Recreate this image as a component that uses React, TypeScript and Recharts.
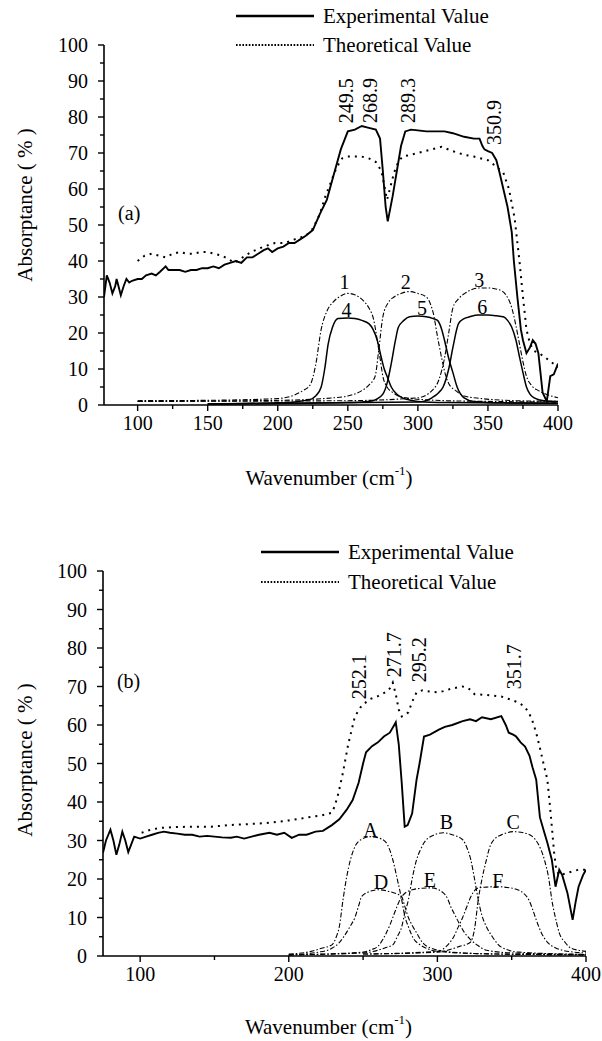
import React from 'react';
import { LineChart, Line, XAxis, YAxis, ReferenceDot, Legend } from 'recharts';

type Pt = [number, number];
const FONT = "'Liberation Serif', 'Times New Roman', 'DejaVu Serif', serif";
const TXT: React.CSSProperties = { fontFamily: FONT };

// ---------- Panel (a) ----------
const expA: Pt[] = [[76,30],[77,33],[78,36],[80,34],[82,31],[84,33],[85,35],[87,32],[88,30.5],[90,33],[92,35],[94,34],[96,34.5],[100,35],[103,35],[106,36],[110,36.5],[113,36],[116,37],[120,38.5],[122,37.5],[126,37.5],[130,37.5],[134,37],[138,37.5],[142,37.5],[146,38],[150,38],[154,38.5],[158,38],[162,39],[166,39.5],[170,40],[174,39.5],[178,41],[182,41],[186,42],[190,43],[193,43.5],[196,42.5],[200,43.5],[204,44],[208,45],[212,45],[216,46],[220,47],[225,48.6],[230,53],[235,57],[240,64],[245,71],[250,76],[255,76.5],[260,77.5],[265,77],[270,76.5],[273,74],[275,65],[277,55],[278.5,51],[280,54],[282,58],[285,65],[288,72],[291,76],[295,76.5],[300,76.3],[306,76],[312,76],[319,76],[325,75.5],[333,74.5],[340,74],[344,74],[346,72],[347.5,71],[350,70.5],[353,70],[356,68],[358,65],[361,60],[364,55],[367,48],[368.5,40],[371,30],[373.5,21],[375,18],[377.5,14.4],[380,16],[382,18],[384,17],[386,14.4],[389,3.5],[392,1],[394.5,8],[397,8.5],[400,11.5]];
const theoA: Pt[] = [[100,40],[105,41.5],[110,42],[115,41.5],[120,41],[125,42],[130,42.5],[135,42],[140,42],[145,42.5],[150,42.5],[155,42],[160,41.5],[165,40.5],[169,39.5],[175,41],[181,42.5],[190,44],[198,45],[205,45],[212,46],[220,47],[225,49],[230,53],[234,58],[238,62],[242,66],[246,68.5],[250,69],[255,69],[260,69],[265,68.5],[270,67.5],[274,65],[276,61],[278,57],[280,60],[283,64.5],[286,67.5],[289,69],[295,69.5],[300,70],[305,70.5],[310,71],[317,71.7],[325,70.5],[333,69.5],[340,69],[350,68],[355,66.5],[361,64.5],[365,60],[369,52],[372.5,40],[375,30],[377.5,21],[380,17],[383,15],[386,14.5],[390,13.5],[395,12],[400,10.5]];
const compA1: Pt[] = [[100,1.2],[150,1.3],[200,1.8],[210,2.5],[218,4],[223,5.5],[227,11],[231,21],[235,26],[239.5,28.6],[245,30.3],[250,31],[255,30.6],[261,29],[265,27],[268.5,23.6],[271,18],[273,13],[275,8],[278,5],[282,3.5],[286,2.5],[295,1.8],[320,1.2],[350,1],[400,0.8]];
const compA2: Pt[] = [[100,1],[200,1.3],[240,2],[250,2.5],[260,4],[265,5.5],[269.5,8],[272,15],[275,24.5],[279,28.5],[283,30],[288,31],[294,31.5],[300,31],[306,30],[309,28],[311,25.5],[314,19],[317,13],[320,8],[322,6],[327,4],[333,2.5],[345,1.8],[370,1.2],[400,1]];
const compA3: Pt[] = [[100,1],[250,1.2],[300,2],[310,4],[315,7],[319,13],[322,20],[325,27],[329,29.5],[333.5,31],[338,32],[344,32.5],[350,32.5],[358,32],[363,30.5],[367,27],[370,22],[372,18],[375,12],[377.5,8],[381,5.5],[386,4],[393,2.8],[400,2]];
const compA4: Pt[] = [[150,0.3],[200,0.6],[215,1],[223,1.5],[227,2.5],[231,5],[233.5,10],[236,17],[239,21.5],[243,24],[250,24.2],[255,24],[260,23.5],[265,22.6],[268,21],[271,18],[274,13],[276,10],[278,8],[281,5],[285,3],[289,2],[295,1.3],[300,1],[320,0.7],[400,0.5]];
const compA5: Pt[] = [[150,0.3],[250,0.7],[265,1],[270,1.5],[275,3],[278,6],[281,11.5],[284,18],[286,21.5],[290,23.5],[294,24.5],[300,24.7],[306,24.5],[311,24],[314,23.5],[317,21],[319,18],[322,13],[325,9],[328,5],[333,2],[340,1],[360,0.6],[400,0.5]];
const compA6: Pt[] = [[150,0.3],[300,0.8],[310,2],[315,3.5],[318,5],[322,10],[325,16],[329,22.6],[333,24],[337,24.5],[343,25],[350,25],[356,24.8],[361,24.5],[364,23.5],[367,21.6],[370,18],[372.5,13.4],[375,9],[377.5,5],[380,3],[383,2],[390,1.2],[400,1]];
const peakTextA = ['249.5', '268.9', '289.3', '350.9'];
const peakAtA: Pt[] = [[249, 78.3], [265.6, 78.3], [293.3, 78.3], [354.3, 72.2]];
const compTextA = ['1', '2', '3', '4', '5', '6'];
const compAtA: Pt[] = [[247.6, 34.2], [291.4, 34.3], [343.8, 34.7], [249, 26.4], [303, 27], [346, 27.3]];
const ticksXA = [100, 125, 150, 175, 200, 225, 250, 275, 300, 325, 350, 375, 400];

// ---------- Panel (b) ----------
const expB: Pt[] = [[75,26.8],[77,30],[80,32.8],[82,30],[84,26.3],[86,29],[88,32.3],[90,30],[92,27],[94,29],[96,31],[100,30.5],[104,31],[108,31.5],[112,32],[116,32.3],[120,32],[125,31.8],[130,31.5],[135,31.5],[140,31],[145,31.2],[150,31],[155,30.8],[161,30.7],[165,31],[170,30.5],[175,31],[180,31.5],[187,32],[192,31.5],[197,32],[202,30.7],[207,31.5],[212,31.5],[218,32.3],[223,32.5],[229,34],[234,35.5],[239,38],[243,40.5],[247,45],[250,50],[252,52.9],[256,54.5],[260,55.5],[264,57],[268,58],[271,60],[272,60.7],[274,55],[276,45],[278,33.6],[280,34],[283,37],[286,45.8],[288,50],[291,57],[295,57.5],[301,58.8],[305,59.5],[310,60],[317,61],[322,61.5],[326,61],[330,62],[336,61.5],[343,62.3],[346,60],[348,58],[351,57.5],[353,57],[356,55.5],[359,54.4],[362,52],[364,49],[366.5,45.8],[369,36],[372,32],[374,29.4],[377,25],[379.5,18],[382,22.4],[384,21],[387.5,16.4],[391,9.4],[393,14],[395,18],[398,21],[400,22.4]];
const theoB: Pt[] = [[101,32],[107,32.8],[114,33.3],[125,33.5],[135,33.6],[148,33.6],[160,34],[175,34.3],[187,34.6],[200,35.2],[213,36],[222,36.5],[229,37.2],[231,39],[233.5,42.4],[236.5,47.7],[240,55],[244.5,62.2],[249,65],[254.5,66.7],[260,67.5],[265,68.5],[268,69.5],[270,71],[272,68],[274,64],[276,62.2],[278,62.5],[280.5,63.3],[283,66],[286,68.5],[290,69],[295,68.7],[300,68.5],[304,68.8],[310,69.5],[317,70],[321,69.5],[325,68],[333,67.8],[343,67.4],[350,66.5],[354,65.9],[358,65],[361.5,63.3],[364,61],[366.5,58],[369,54],[372,49],[374,45.8],[375.5,40],[377,33.6],[378.5,27],[380,22.4],[382,21],[385,21.3],[387.5,21.6],[391,22],[395,22.4],[400,22.4]];
const compBA: Pt[] = [[200,0.5],[215,1.2],[222,2],[229,2.9],[232,5],[234,7.6],[236.5,14.6],[239,20.6],[241.5,25],[244.5,28.4],[249,30.3],[254.5,31],[260,30.7],[265,29.7],[268,27.5],[270,25],[273,20],[276,14.6],[278,10.5],[280.5,7.6],[284,4.5],[288,3],[291,2.3],[300,1.2],[330,0.6],[400,0.3]];
const compBB: Pt[] = [[200,0.3],[250,0.8],[260,1.5],[266,2.3],[270,2.9],[273,5],[276,7.6],[278,11],[280.5,14.6],[283,20],[286,25],[288.5,27.5],[291,29.4],[297,31.3],[304,32],[310,31.5],[317,30.2],[320,28],[322.5,25],[325,20],[327.5,14.6],[330,10.5],[333,7.6],[337,5],[343,2.3],[355,1],[400,0.4]];
const compBC: Pt[] = [[250,0.5],[300,1],[315,2.5],[322,3.5],[325,7],[327.5,14.6],[330,20],[333,25],[335,28],[338,30.2],[344,31.6],[351,32.3],[358,32],[364,31],[368,29],[372,25],[375,20],[377,14.6],[380,9],[382,6],[386,3.5],[390,2],[395,1.5],[400,1.2]];
const compBD: Pt[] = [[200,0.3],[220,1],[229,2],[234,3.5],[237,5],[241,7.5],[244.5,10],[247,13],[249,15.4],[254,16.7],[260,17.2],[268,16.7],[276,15.4],[278,13],[280.5,10],[283,8],[286,6],[290,3.5],[296,2],[310,1],[340,0.5],[400,0.3]];
const compBE: Pt[] = [[200,0.3],[250,1],[256,1.7],[260,2.5],[265,5.5],[268,8],[270,10],[273,13],[276,15.4],[283,17.2],[290,17.6],[296,17.7],[304,16.4],[307,14.8],[309,12.8],[312,10.5],[314.5,8.6],[318,6.2],[322,4.4],[327,2.8],[333,1.5],[350,0.8],[400,0.4]];
const compBF: Pt[] = [[250,0.5],[300,1.2],[306,2.5],[311,5],[314,7.5],[317,10],[320,13],[322.5,15.4],[327.5,17.7],[333,17.9],[340,18],[347,17.8],[354,17.2],[358,16.3],[361.5,14.6],[364,12.2],[366.5,9.4],[370,6],[374,3.6],[379,2.2],[384,1.5],[392,1],[400,0.8]];
const peakTextB = ['252.1', '271.7', '295.2', '351.7'];
const peakAtB: Pt[] = [[247.1, 66.7], [270.6, 72.4], [287.6, 71.1], [351.6, 69.3]];
const compTextB = ['A', 'B', 'C', 'D', 'E', 'F'];
const compAtB: Pt[] = [[255, 32.8], [306, 34.9], [351, 34.9], [262, 19.3], [295, 19.8], [340.7, 19.5]];
const ticksXB = [100, 150, 200, 250, 300, 350, 400];

const ticksY = [0, 5, 10, 15, 20, 25, 30, 35, 40, 45, 50, 55, 60, 65, 70, 75, 80, 85, 90, 95, 100];
const seriesNames = ['Experimental Value', 'Theoretical Value'];

const toXY = (pts: Pt[]) => pts.map(([x, y]) => ({ x, y }));

const makeXTick = (majorStep: number) => (p: any) => {
  const v = p.payload.value;
  const major = v % majorStep === 0;
  return (
    <g>
      <line x1={p.x} x2={p.x} y1={p.y} y2={p.y + (major ? 6 : 4)} stroke="#000" strokeWidth={1.4} />
      {major && (
        <text x={p.x} y={p.y + 11} dy="0.71em" textAnchor="middle" style={TXT} fontSize={20} fill="#000">{v}</text>
      )}
    </g>
  );
};

const YTick = (p: any) => {
  const v = p.payload.value;
  const major = v % 10 === 0;
  return (
    <g>
      <line x1={p.x - (major ? 6 : 4)} x2={p.x} y1={p.y} y2={p.y} stroke="#000" strokeWidth={1.4} />
      {major && (
        <text x={p.x - 16} y={p.y} dy="0.35em" textAnchor="end" style={TXT} fontSize={20} fill="#000">{v}</text>
      )}
    </g>
  );
};

const yTitle = (cy: number) => (props: any) => {
  const vb = props.viewBox || { x: 0 };
  const cx = vb.x + 25;
  return (
    <text x={cx} y={cy} transform={`rotate(-90 ${cx} ${cy})`} textAnchor="middle" dominantBaseline="central" style={TXT} fontSize={21} fill="#000">
      Absorptance ( % )
    </text>
  );
};

const xTitle = (dx: number, dyv: number) => (props: any) => {
  const vb = props.viewBox;
  const cx = vb.x + vb.width / 2 + dx;
  const cy = vb.y + dyv;
  return (
    <text x={cx} y={cy} textAnchor="middle" dominantBaseline="central" style={TXT} fontSize={21} fill="#000">
      Wavenumber (cm<tspan dy={-8} fontSize={13}>-1</tspan><tspan dy={8}>)</tspan>
    </text>
  );
};

const vText = (text: string) => (p: any) => (
  <text x={p.cx} y={p.cy} transform={`rotate(-90 ${p.cx} ${p.cy})`} dy="0.35em" textAnchor="start" style={TXT} fontSize={20} fill="#000">{text}</text>
);
const cText = (text: string, size = 20) => (p: any) => (
  <text x={p.cx} y={p.cy} dy="0.35em" textAnchor="middle" style={TXT} fontSize={size} fill="#000">{text}</text>
);

const legendContent = (firstY: number, gap: number) => (props: any) => {
  const items = ((props.payload || []) as any[]).filter((it) => seriesNames.includes(it.value));
  items.sort((a, b) => seriesNames.indexOf(a.value) - seriesNames.indexOf(b.value));
  return (
    <svg width={300} height={firstY + gap * items.length} style={{ display: 'block', overflow: 'visible' }}>
      {items.map((it, i) => {
        const y = firstY + i * gap;
        const dotted = !!(it.payload && it.payload.strokeDasharray);
        return (
          <g key={i}>
            <line x1={0} x2={78} y1={y} y2={y} stroke="#000" strokeWidth={dotted ? 2 : 2.4} strokeDasharray={dotted ? '1.6 1.6' : undefined} />
            <text x={87} y={y} dominantBaseline="central" style={TXT} fontSize={21} fill="#000">{it.value}</text>
          </g>
        );
      })}
    </svg>
  );
};

const DASHDOT = '5 2 1.5 2';

export default function App() {
  return (
    <div style={{ position: 'absolute', left: 0, top: 0, width: 602, height: 1041, background: '#fff' }}>
      {/* Panel (a) */}
      <div style={{ position: 'absolute', left: 0, top: 0 }}>
        <LineChart width={602} height={520} margin={{ top: 45, right: 44, bottom: 85, left: 0 }}>
          <XAxis type="number" dataKey="x" domain={[76, 400]} ticks={ticksXA} interval={0} allowDataOverflow
            height={30} tickSize={0} tickMargin={0} tickLine={false} tick={makeXTick(50)}
            axisLine={{ stroke: '#000', strokeWidth: 1.6 }} label={xTitle(-2, 73)} />
          <YAxis type="number" domain={[0, 100]} ticks={ticksY} interval={0} allowDataOverflow width={104}
            tickSize={0} tickMargin={0} tickLine={false} tick={YTick}
            axisLine={{ stroke: '#000', strokeWidth: 1.6 }} label={yTitle(205)} />
          <Legend layout="vertical" align="center" verticalAlign="middle" wrapperStyle={{ left: 236, top: 0, width: 320 }} content={legendContent(16, 29)} />
          <Line data={toXY(compA1)} dataKey="y" type="monotone" stroke="#000" strokeWidth={1.1} strokeDasharray={DASHDOT} dot={false} legendType="none" isAnimationActive={false} />
          <Line data={toXY(compA2)} dataKey="y" type="monotone" stroke="#000" strokeWidth={1.1} strokeDasharray={DASHDOT} dot={false} legendType="none" isAnimationActive={false} />
          <Line data={toXY(compA3)} dataKey="y" type="monotone" stroke="#000" strokeWidth={1.1} strokeDasharray={DASHDOT} dot={false} legendType="none" isAnimationActive={false} />
          <Line data={toXY(compA4)} dataKey="y" type="monotone" stroke="#000" strokeWidth={1.5} dot={false} legendType="none" isAnimationActive={false} />
          <Line data={toXY(compA5)} dataKey="y" type="monotone" stroke="#000" strokeWidth={1.5} dot={false} legendType="none" isAnimationActive={false} />
          <Line data={toXY(compA6)} dataKey="y" type="monotone" stroke="#000" strokeWidth={1.5} dot={false} legendType="none" isAnimationActive={false} />
          <Line name={seriesNames[0]} data={toXY(expA)} dataKey="y" type="linear" stroke="#000" strokeWidth={1.9} dot={false} isAnimationActive={false} />
          <Line name={seriesNames[1]} data={toXY(theoA)} dataKey="y" type="linear" stroke="#000" strokeWidth={2} strokeDasharray="2 5" dot={false} isAnimationActive={false} />
          {peakTextA.map((t, i) => (
            <ReferenceDot key={'pa' + i} x={peakAtA[i][0]} y={peakAtA[i][1]} r={0} ifOverflow="visible" shape={vText(t)} />
          ))}
          {compTextA.map((t, i) => (
            <ReferenceDot key={'ca' + i} x={compAtA[i][0]} y={compAtA[i][1]} r={0} ifOverflow="visible" shape={cText(t)} />
          ))}
          <ReferenceDot x={94} y={53.3} r={0} ifOverflow="visible" shape={cText('(a)')} />
        </LineChart>
      </div>
      {/* Panel (b) */}
      <div style={{ position: 'absolute', left: 0, top: 520 }}>
        <LineChart width={602} height={521} margin={{ top: 51, right: 16, bottom: 55, left: 0 }}>
          <XAxis type="number" dataKey="x" domain={[75, 400]} ticks={ticksXB} interval={0} allowDataOverflow
            height={30} tickSize={0} tickMargin={0} tickLine={false} tick={makeXTick(100)}
            axisLine={{ stroke: '#000', strokeWidth: 1.6 }} label={xTitle(-16, 71)} />
          <YAxis type="number" domain={[0, 100]} ticks={ticksY} interval={0} allowDataOverflow width={103}
            tickSize={0} tickMargin={0} tickLine={false} tick={YTick}
            axisLine={{ stroke: '#000', strokeWidth: 1.6 }} label={yTitle(240)} />
          <Legend layout="vertical" align="center" verticalAlign="middle" wrapperStyle={{ left: 261, top: 0, width: 320 }} content={legendContent(32, 30)} />
          <Line data={toXY(compBA)} dataKey="y" type="monotone" stroke="#000" strokeWidth={1.1} strokeDasharray={DASHDOT} dot={false} legendType="none" isAnimationActive={false} />
          <Line data={toXY(compBB)} dataKey="y" type="monotone" stroke="#000" strokeWidth={1.1} strokeDasharray={DASHDOT} dot={false} legendType="none" isAnimationActive={false} />
          <Line data={toXY(compBC)} dataKey="y" type="monotone" stroke="#000" strokeWidth={1.1} strokeDasharray={DASHDOT} dot={false} legendType="none" isAnimationActive={false} />
          <Line data={toXY(compBD)} dataKey="y" type="monotone" stroke="#000" strokeWidth={1.1} strokeDasharray={DASHDOT} dot={false} legendType="none" isAnimationActive={false} />
          <Line data={toXY(compBE)} dataKey="y" type="monotone" stroke="#000" strokeWidth={1.1} strokeDasharray={DASHDOT} dot={false} legendType="none" isAnimationActive={false} />
          <Line data={toXY(compBF)} dataKey="y" type="monotone" stroke="#000" strokeWidth={1.1} strokeDasharray={DASHDOT} dot={false} legendType="none" isAnimationActive={false} />
          <Line name={seriesNames[0]} data={toXY(expB)} dataKey="y" type="linear" stroke="#000" strokeWidth={1.9} dot={false} isAnimationActive={false} />
          <Line name={seriesNames[1]} data={toXY(theoB)} dataKey="y" type="linear" stroke="#000" strokeWidth={2} strokeDasharray="2 5" dot={false} isAnimationActive={false} />
          {peakTextB.map((t, i) => (
            <ReferenceDot key={'pb' + i} x={peakAtB[i][0]} y={peakAtB[i][1]} r={0} ifOverflow="visible" shape={vText(t)} />
          ))}
          {compTextB.map((t, i) => (
            <ReferenceDot key={'cb' + i} x={compAtB[i][0]} y={compAtB[i][1]} r={0} ifOverflow="visible" shape={cText(t)} />
          ))}
          <ReferenceDot x={92.2} y={71.4} r={0} ifOverflow="visible" shape={cText('(b)')} />
        </LineChart>
      </div>
    </div>
  );
}
